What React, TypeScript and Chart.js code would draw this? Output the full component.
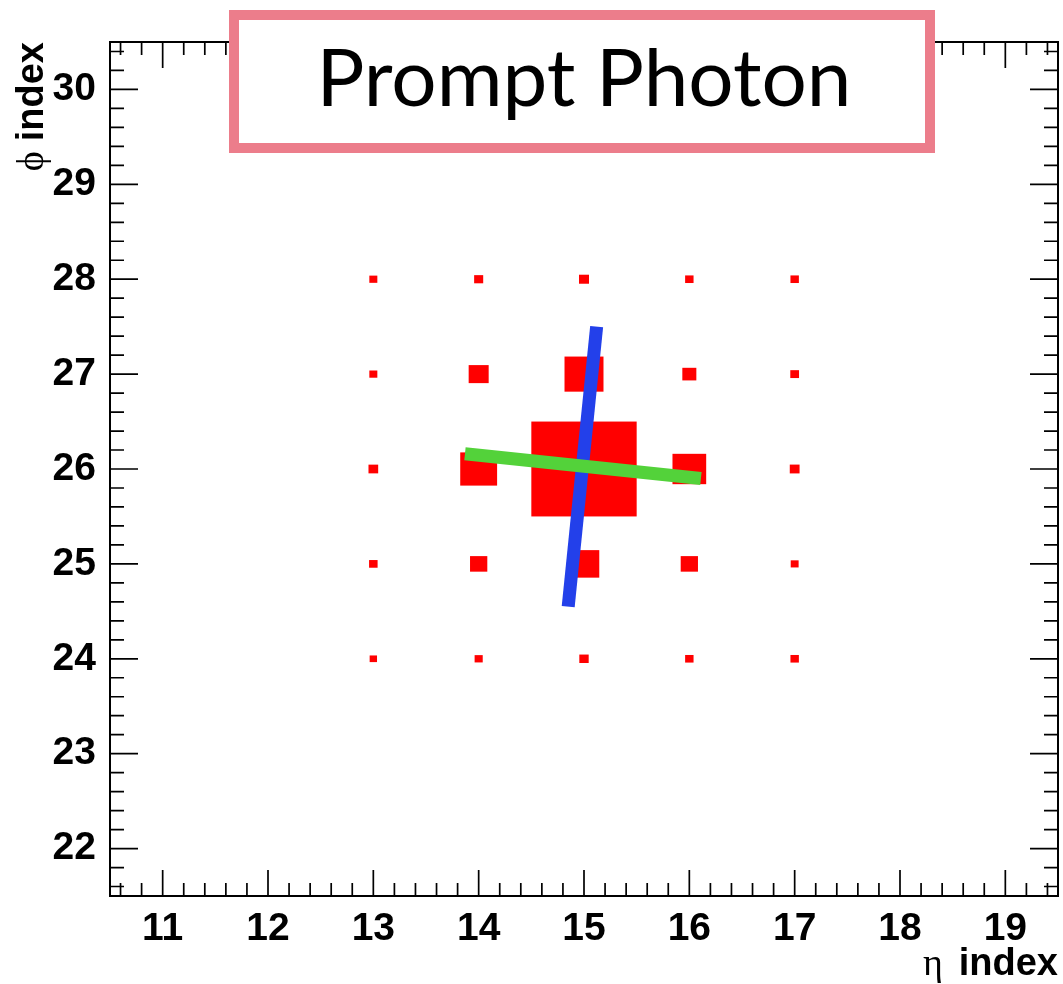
import React, { useEffect, useRef } from 'react';
import { Chart, registerables } from 'chart.js';

Chart.register(...registerables);

// ---- data ----
const etaRange = [10.5, 19.5];
const phiRange = [21.5, 30.5];
const etaTickLabels = ['11', '12', '13', '14', '15', '16', '17', '18', '19'];
const phiTickLabels = ['22', '23', '24', '25', '26', '27', '28', '29', '30'];
const minorDivisions = 5;

const etaCells = [13, 14, 15, 16, 17];
const phiCells = [24, 25, 26, 27, 28];
// relative cell energy (box side as fraction of the cell), one array per phi row
const energyPhi24 = [0.07, 0.077, 0.089, 0.08, 0.08];
const energyPhi25 = [0.081, 0.164, 0.29, 0.164, 0.075];
const energyPhi26 = [0.092, 0.35, 1.0, 0.32, 0.093];
const energyPhi27 = [0.076, 0.19, 0.37, 0.133, 0.083];
const energyPhi28 = [0.076, 0.086, 0.095, 0.08, 0.08];

// shower axes
const greenAxisEta = [13.87, 16.11];
const greenAxisPhi = [26.16, 25.9];
const blueAxisEta = [14.85, 15.12];
const blueAxisPhi = [24.55, 27.5];

const titleText = 'Prompt Photon';
const xTitleSymbol = 'η';
const yTitleSymbol = 'ϕ';
const axisTitleWord = 'index';

const energyRows = [energyPhi24, energyPhi25, energyPhi26, energyPhi27, energyPhi28];

const cellData = phiCells.flatMap((phi, r) =>
  etaCells.map((eta, c) => ({ x: eta, y: phi, v: energyRows[r][c] }))
);

const SANS = "'Liberation Sans', Arial, Helvetica, sans-serif";
const SERIF = "'Liberation Serif', 'DejaVu Serif', 'Times New Roman', serif";

const isMajor = (v: number) => Math.abs(v - Math.round(v)) < 1e-6;

function makeTicks(min: number, max: number) {
  const ticks: { value: number }[] = [];
  const start = Math.ceil(min * minorDivisions - 1e-9);
  const end = Math.floor(max * minorDivisions + 1e-9);
  for (let k = start; k <= end; k++) {
    ticks.push({ value: Math.round((k / minorDivisions) * 1000) / 1000 });
  }
  return ticks;
}

const cellBoxes = {
  id: 'cellBoxes',
  beforeDatasetsDraw(chart: any) {
    const { ctx, scales } = chart;
    const x = scales.x;
    const y = scales.y;
    const ds = chart.data.datasets.find((d: any) => d.label === 'cells');
    if (!ds) return;
    ctx.save();
    ctx.fillStyle = '#ff0000';
    ds.data.forEach((p: any) => {
      const h = p.v / 2;
      const x0 = x.getPixelForValue(p.x - h);
      const x1 = x.getPixelForValue(p.x + h);
      const y0 = y.getPixelForValue(p.y + h);
      const y1 = y.getPixelForValue(p.y - h);
      ctx.fillRect(x0, y0, x1 - x0, y1 - y0);
    });
    ctx.restore();
  },
};

const frameTicks = {
  id: 'frameTicks',
  afterDatasetsDraw(chart: any) {
    const { ctx, chartArea: a, scales } = chart;
    const x = scales.x;
    const y = scales.y;
    ctx.save();
    ctx.strokeStyle = '#000';
    ctx.lineWidth = 2;
    ctx.strokeRect(a.left, a.top, a.right - a.left, a.bottom - a.top);
    ctx.lineWidth = 1.7;
    ctx.beginPath();
    x.ticks.forEach((t: any) => {
      const v = t.value;
      if (v <= x.min + 1e-9 || v >= x.max - 1e-9) return;
      const p = x.getPixelForValue(v);
      const len = isMajor(v) ? 26 : 13;
      ctx.moveTo(p, a.bottom);
      ctx.lineTo(p, a.bottom - len);
      ctx.moveTo(p, a.top);
      ctx.lineTo(p, a.top + len);
    });
    y.ticks.forEach((t: any) => {
      const v = t.value;
      if (v <= y.min + 1e-9 || v >= y.max - 1e-9) return;
      const p = y.getPixelForValue(v);
      const len = isMajor(v) ? 28 : 14;
      ctx.moveTo(a.left, p);
      ctx.lineTo(a.left + len, p);
      ctx.moveTo(a.right, p);
      ctx.lineTo(a.right - len, p);
    });
    ctx.stroke();
    ctx.restore();
  },
  afterDraw(chart: any) {
    const { ctx, chartArea: a } = chart;
    ctx.save();
    ctx.fillStyle = '#000';
    ctx.textBaseline = 'alphabetic';

    // x title: "η index" right aligned at the axis end
    ctx.font = `bold 38px ${SANS}`;
    ctx.textAlign = 'right';
    const xBase = 975;
    ctx.fillText(axisTitleWord, a.right, xBase);
    const wWord = ctx.measureText(axisTitleWord).width;
    ctx.font = `38px ${SERIF}`;
    ctx.fillText(xTitleSymbol, a.right - wWord - 16, xBase);

    // y title rotated
    ctx.save();
    ctx.translate(43, a.top);
    ctx.rotate(-Math.PI / 2);
    ctx.font = `bold 38px ${SANS}`;
    ctx.textAlign = 'right';
    ctx.fillText(axisTitleWord, 0, 0);
    const wWord2 = ctx.measureText(axisTitleWord).width;
    ctx.font = `38px ${SERIF}`;
    ctx.fillText(yTitleSymbol, -wWord2 - 10, 0);
    ctx.restore();

    // title box
    const bx = 229, by = 10, bw = 706, bh = 143;
    ctx.fillStyle = '#ffffff';
    ctx.fillRect(bx, by, bw, bh);
    ctx.strokeStyle = 'rgb(236,125,139)';
    ctx.lineWidth = 10;
    ctx.strokeRect(bx + 5, by + 5, bw - 10, bh - 10);
    ctx.strokeStyle = 'rgba(236,125,139,0.5)';
    ctx.lineWidth = 2;
    ctx.strokeRect(bx + 1, by + 2, bw - 3, bh - 3);
    ctx.fillStyle = '#000';
    ctx.font = `80px Lato, 'Open Sans', sans-serif`;
    ctx.textAlign = 'center';
    ctx.fillText(titleText, 584, 106);
    ctx.restore();
  },
};

export default function App() {
  const ref = useRef<HTMLCanvasElement | null>(null);

  useEffect(() => {
    if (!ref.current) return;
    const tickFont = { family: SANS, size: 39, weight: 'bold' as const };
    const chart = new Chart(ref.current, {
      type: 'scatter',
      data: {
        datasets: [
          {
            label: 'green',
            type: 'line',
            data: greenAxisEta.map((e, i) => ({ x: e, y: greenAxisPhi[i] })),
            borderColor: 'rgb(83,210,58)',
            borderWidth: 13,
            borderCapStyle: 'butt',
            pointRadius: 0,
            showLine: true,
            fill: false,
          } as any,
          {
            label: 'blue',
            type: 'line',
            data: blueAxisEta.map((e, i) => ({ x: e, y: blueAxisPhi[i] })),
            borderColor: 'rgb(35,64,234)',
            borderWidth: 13,
            borderCapStyle: 'butt',
            pointRadius: 0,
            showLine: true,
            fill: false,
          } as any,
          {
            label: 'cells',
            data: cellData,
            pointRadius: 0,
            showLine: false,
          } as any,
        ],
      },
      options: {
        animation: false,
        responsive: false,
        devicePixelRatio: 1,
        events: [],
        layout: { padding: { left: 0, top: 42, right: 5, bottom: 0 } },
        plugins: { legend: { display: false }, tooltip: { enabled: false }, title: { display: false } },
        scales: {
          x: {
            type: 'linear',
            min: etaRange[0],
            max: etaRange[1],
            grid: { display: false },
            border: { display: false },
            afterBuildTicks: (s: any) => {
              s.ticks = makeTicks(etaRange[0], etaRange[1]);
            },
            afterFit: (s: any) => {
              s.height = 88;
            },
            ticks: {
              autoSkip: false,
              maxRotation: 0,
              padding: 2,
              color: '#000',
              font: tickFont,
              callback: (v: any) => {
                const lbl = String(Math.round(Number(v)));
                return isMajor(Number(v)) && etaTickLabels.includes(lbl) ? lbl : '';
              },
            },
          },
          y: {
            type: 'linear',
            min: phiRange[0],
            max: phiRange[1],
            grid: { display: false },
            border: { display: false },
            afterBuildTicks: (s: any) => {
              s.ticks = makeTicks(phiRange[0], phiRange[1]);
            },
            afterFit: (s: any) => {
              s.width = 110;
            },
            ticks: {
              autoSkip: false,
              padding: 6,
              color: '#000',
              font: tickFont,
              callback: (v: any) => {
                const lbl = String(Math.round(Number(v)));
                return isMajor(Number(v)) && phiTickLabels.includes(lbl) ? lbl : '';
              },
            },
          },
        },
      } as any,
      plugins: [cellBoxes, frameTicks],
    });
    return () => chart.destroy();
  }, []);

  return (
    <div style={{ position: 'fixed', left: 0, top: 0, width: 1063, height: 984, background: '#fff' }}>
      <canvas ref={ref} width={1063} height={984} />
    </div>
  );
}
